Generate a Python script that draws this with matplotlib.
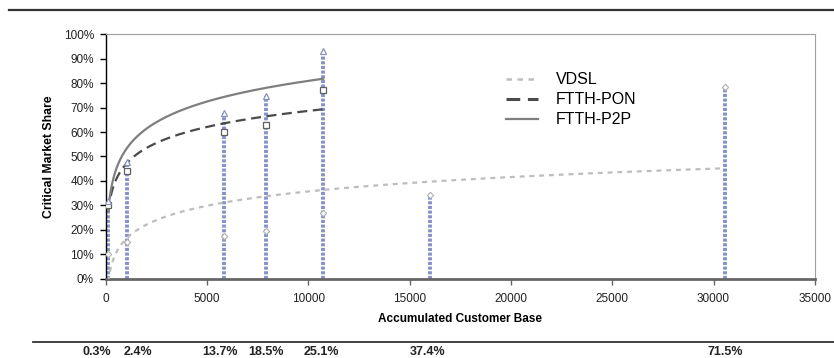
import numpy as np
import matplotlib.pyplot as plt
from matplotlib.lines import Line2D

plt.rcParams['font.family'] = ['Liberation Sans', 'DejaVu Sans']

# accumulated customer base at each area, and its share of the total
base = [130, 1030, 5860, 7910, 10730, 15990, 30570]
share_labels = ['0.3%', '2.4%', '13.7%', '18.5%', '25.1%', '37.4%', '71.5%']

# critical market share (%) per technology
vdsl = [10, 15, 17.7, 19.6, 27, 34.3, 78.2]
pon = [30, 44, 60, 63, 77]
p2p = [32, 47.8, 67.7, 74.8, 93]

fig = plt.figure(figsize=(8.34, 3.58), dpi=100)
ax = fig.add_axes([0.1267, 0.2207, 0.8503, 0.6843])

x_arr = np.array(base, dtype=float)

# vertical dotted bars up to the highest value
tops = [max(v for v in (vdsl[i], pon[i] if i < len(pon) else 0, p2p[i] if i < len(p2p) else 0))
        for i in range(len(base))]
ax.vlines(x_arr, 0, tops, colors='#8592cc', linewidth=2.8,
          linestyles=(0, (0.8, 0.4)), zorder=2)


# logarithmic trend lines (like Excel)
def trend(xs, ys, color, ls, lw, label):
    xs = np.array(xs, dtype=float)
    b, a = np.polyfit(np.log(xs), ys, 1)
    xx = np.linspace(xs.min(), xs.max(), 400)
    ax.plot(xx, a + b * np.log(xx), color=color, linestyle=ls, linewidth=lw,
            label=label, zorder=3)


trend(base, vdsl, '#bdbdbd', (0, (2.2, 2.2)), 1.6, 'VDSL')
trend(base[:5], pon, '#4a4a4a', (0, (4.5, 2.5)), 1.6, 'FTTH-PON')
trend(base[:5], p2p, '#7f7f7f', '-', 1.6, 'FTTH-P2P')

# markers
ax.plot(base, vdsl, linestyle='none', marker='D', markersize=3.2,
        markerfacecolor='white', markeredgecolor='#b0b0b0', markeredgewidth=0.8, zorder=4)
ax.plot(base[:5], pon, linestyle='none', marker='s', markersize=5,
        markerfacecolor='white', markeredgecolor='#606060', markeredgewidth=0.9, zorder=4)
ax.plot(base[:5], p2p, linestyle='none', marker='^', markersize=5,
        markerfacecolor='white', markeredgecolor='#8a93b8', markeredgewidth=0.9, zorder=4)

ax.set_xlim(0, 35000)
ax.set_ylim(0, 100)
ax.set_xticks(np.arange(0, 35001, 5000))
ax.set_yticks(np.arange(0, 101, 10))
ax.set_yticklabels([f'{v}%' for v in range(0, 101, 10)])
ax.tick_params(axis='both', labelsize=8.5, labelcolor='#222222', length=4, width=1)
ax.tick_params(axis='x', colors='#666666', labelcolor='#222222', pad=6)
ax.tick_params(axis='y', colors='black', labelcolor='#222222', pad=4.5)

ax.spines['left'].set_color('black')
ax.spines['left'].set_linewidth(1)
ax.spines['bottom'].set_color('#666666')
ax.spines['bottom'].set_linewidth(2)
ax.spines['top'].set_color('#a0a0a0')
ax.spines['right'].set_color('#a0a0a0')

ax.set_xlabel('Accumulated Customer Base', fontsize=8.5, fontweight='bold', labelpad=6)
ax.set_ylabel('Critical Market Share', fontsize=8.8, fontweight='bold', labelpad=6)

handles = [Line2D([], [], color='#bdbdbd', linestyle=(0, (2.2, 2.2)), linewidth=1.8),
           Line2D([], [], color='#4a4a4a', linestyle=(0, (4.5, 2.5)), linewidth=2.2),
           Line2D([], [], color='#7f7f7f', linestyle='-', linewidth=1.6)]
ax.legend(handles, ['VDSL', 'FTTH-PON', 'FTTH-P2P'], loc='upper left',
          bbox_to_anchor=(0.556, 0.87), frameon=False, fontsize=11.5,
          handlelength=2.0, handletextpad=1.1, labelspacing=0.32, borderaxespad=0)

# share labels under the chart
offsets = [-11, 11, -4, 0, -2, -2, 0]
for xv, lab, off in zip(base, share_labels, offsets):
    ax.annotate(lab, xy=(xv, 0), xycoords=('data', 'axes fraction'),
                xytext=(off, -73), textcoords='offset pixels', ha='center', va='center',
                fontsize=9, fontweight='bold', color='#222222', annotation_clip=False)

# horizontal rules
fig.add_artist(Line2D([9 / 834, 1], [1 - 9.5 / 358] * 2, color='#333333', linewidth=1.6))
fig.add_artist(Line2D([33 / 834, 1], [1 - 342 / 358] * 2, color='#333333', linewidth=1.3))

fig.savefig('out.png', dpi=100)
